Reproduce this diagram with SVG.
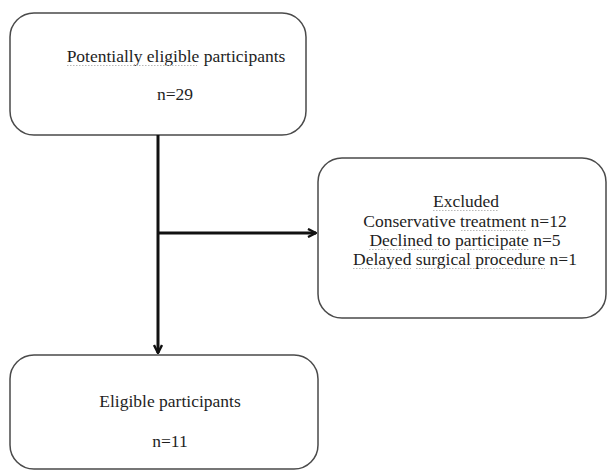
<svg xmlns="http://www.w3.org/2000/svg" width="608" height="471" viewBox="0 0 608 471">
<style>
.box{fill:#fff;stroke:#4a4a4a;stroke-width:1.5}
.t{font-family:"Liberation Serif","DejaVu Serif",serif;font-size:17.5px;fill:#1e1e1e;text-anchor:middle}
.sq{stroke:#b8b8b8;stroke-width:1.2;stroke-dasharray:1.5 1.5;fill:none}
.c{stroke:#111;stroke-width:3;fill:none}
</style>
<defs>
<marker id="ah" viewBox="0 0 10 10" refX="9" refY="5" markerWidth="10" markerHeight="10" markerUnits="userSpaceOnUse" orient="auto">
<path d="M1,1 L9,5 L1,9" fill="none" stroke="#111" stroke-width="2.4"/>
</marker>
</defs>
<rect width="608" height="471" fill="#fff"/>
<g id="n1">
<rect class="box" x="10" y="13" width="296" height="122" rx="24"/>
<text class="t" x="176" y="62"><tspan>Potentially eligible</tspan> participants</text>
<path class="sq" d="M67,65.5 H197"/>
<text class="t" x="175" y="100">n=29</text>
</g>
<g id="n2">
<rect class="box" x="318" y="158" width="288" height="160" rx="24"/>
<text class="t" x="466" y="207"><tspan>Excluded</tspan></text>
<text class="t" x="465" y="227">Conservative <tspan>treatment</tspan> n=12</text>
<text class="t" x="465" y="246"><tspan>Declined</tspan> to <tspan>participate</tspan> n=5</text>
<text class="t" x="465" y="265"><tspan>Delayed surgical procedure</tspan> n=1</text>
<path class="sq" d="M433,210.5 H499 M461,230.5 H526 M369,249.5 H439 M455,249.5 H529 M353,268.5 H411 M416,268.5 H476 M481,268.5 H545"/>
</g>
<g id="n3">
<rect class="box" x="10" y="355" width="308" height="114" rx="24"/>
<text class="t" x="170" y="407">Eligible participants</text>
<text class="t" x="170" y="447">n=11</text>
</g>
<g id="connectors">
<line class="c" x1="158" y1="135" x2="158" y2="353" marker-end="url(#ah)"/>
<line class="c" x1="158" y1="233" x2="316" y2="233" marker-end="url(#ah)"/>
</g>
</svg>
